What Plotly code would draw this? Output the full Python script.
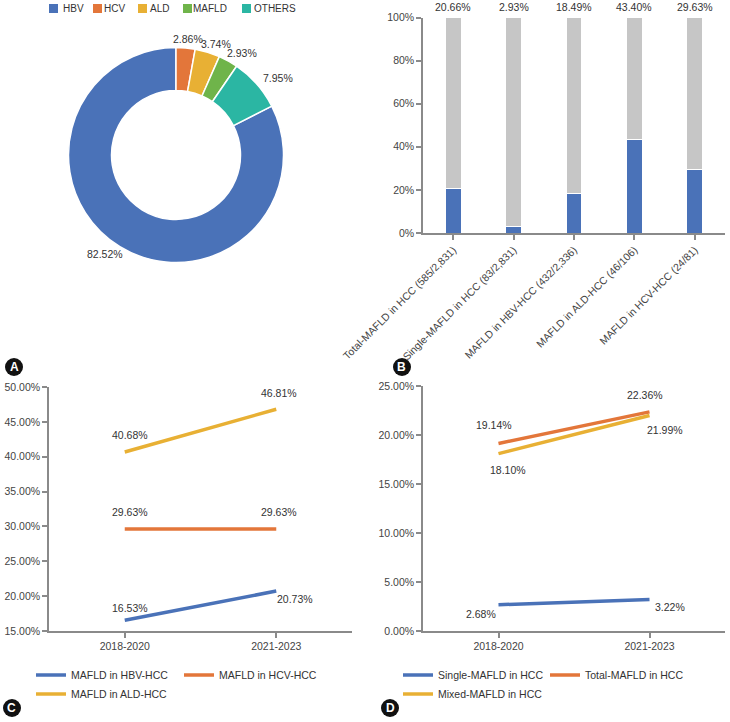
import math
import plotly.graph_objects as go

# ---------- Data ----------
pie_labels = ["HBV", "HCV", "ALD", "MAFLD", "OTHERS"]
pie_values = [82.52, 2.86, 3.74, 2.93, 7.95]

bar_categories = ["Total-MAFLD in HCC (585/2,831)", "Single-MAFLD in HCC (83/2,831)",
                  "MAFLD in HBV-HCC (432/2,336)", "MAFLD in ALD-HCC (46/106)",
                  "MAFLD in HCV-HCC (24/81)"]
bar_mafld = [20.66, 2.93, 18.49, 43.40, 29.63]

periods = ["2018-2020", "2021-2023"]
c_hbv = [16.53, 20.73]
c_hcv = [29.63, 29.63]
c_ald = [40.68, 46.81]
d_single = [2.68, 3.22]
d_total = [19.14, 22.36]
d_mixed = [18.10, 21.99]

BLUE = "#4a72b8"
ORANGE = "#e3763a"
YELLOW = "#e8b034"
GREEN = "#6fb44a"
TEAL = "#2bb6a3"
GRAY = "#c6c6c6"
AX = "#8a8a8a"
TXT = "#333333"
FONT = "Liberation Sans, Arial, sans-serif"
FS = 10.5
pie_colors = [BLUE, ORANGE, YELLOW, GREEN, TEAL]

W, H = 730, 722
fig = go.Figure()

# ---------- A: donut ----------
PCX, PCY, PR = 176, 155, 107.5
rotation = 360 - pie_values[0] / 100 * 360
fig.add_trace(go.Pie(
    labels=pie_labels, values=pie_values, hole=0.6, sort=False,
    direction="clockwise", rotation=rotation,
    marker=dict(colors=pie_colors, line=dict(color="white", width=1.5)),
    textinfo="none",
    domain=dict(x=[(PCX - PR) / W, (PCX + PR) / W], y=[1 - (PCY + PR) / H, 1 - (PCY - PR) / H]),
    showlegend=False,
))

annotations = []
shapes = []

# outside percentage labels, positioned at each slice's mid-angle
total = sum(pie_values)
cum = 0.0
for v in pie_values:
    mid = rotation + (cum + v / 2) / total * 360
    cum += v
    a = math.radians(mid)
    s, c = math.sin(a), math.cos(a)
    R0 = PR + 5
    lx = PCX + R0 * s + 23 * s
    ly = PCY - R0 * c - 4 * c
    annotations.append(dict(x=lx / W, y=1 - ly / H, xref="paper", yref="paper", text=f"{v:.2f}%",
                            showarrow=False, xanchor="center", yanchor="middle",
                            font=dict(size=FS, color=TXT, family=FONT)))

# ---------- B: stacked bars ----------
fig.add_trace(go.Bar(
    x=bar_categories, y=[v / 100 for v in bar_mafld], marker=dict(color=BLUE, line=dict(color="white", width=1)),
    xaxis="x", yaxis="y", showlegend=False, width=0.26,
))
fig.add_trace(go.Bar(
    x=bar_categories, y=[1 - v / 100 for v in bar_mafld], marker=dict(color=GRAY, line=dict(color="white", width=1)),
    xaxis="x", yaxis="y", showlegend=False, width=0.26,
))
for cat, v in zip(bar_categories, bar_mafld):
    annotations.append(dict(x=cat, y=1, xref="x", yref="y", text=f"{v:.2f}%", showarrow=False,
                            yanchor="bottom", yshift=3, font=dict(size=FS, color=TXT, family=FONT)))

# pie legend (manual, compact spacing as in reference)
sq_x = [49, 93, 138, 183, 242]
tx_x = [63, 104, 150, 193, 254]
for sx, tx, lab, col in zip(sq_x, tx_x, pie_labels, pie_colors):
    shapes.append(dict(type="rect", xref="paper", yref="paper", layer="below",
                       x0=sx / W, x1=(sx + 9) / W, y0=1 - 13 / H, y1=1 - 4 / H,
                       fillcolor=col, line=dict(width=0)))
    annotations.append(dict(x=tx / W, y=1 - 8.5 / H, xref="paper", yref="paper", text=lab,
                            showarrow=False, xanchor="left", yanchor="middle", xshift=-2,
                            font=dict(size=10, color=TXT, family=FONT)))

# ---------- C / D: lines ----------
def line(xs, ys, color, name, offsets, xa, ya, leg):
    for xv, yv, (dx, dy) in zip(xs, ys, offsets):
        annotations.append(dict(x=xv, y=yv, xref=xa, yref=ya, text=f"{yv:.2f}%", showarrow=False,
                                xanchor="center", yanchor="middle", xshift=dx, yshift=-dy,
                                font=dict(size=FS, color=TXT, family=FONT)))
    return go.Scatter(x=xs, y=ys, mode="lines", name=name, line=dict(color=color, width=3.5),
                      xaxis=xa, yaxis=ya, legend=leg, cliponaxis=False)

# label offsets in pixels (dx right, dy down) relative to each point
fig.add_trace(line(periods, c_hbv, BLUE, "MAFLD in HBV-HCC", [(5, -12), (19, 8)], "x2", "y2", "legend"))
fig.add_trace(line(periods, c_hcv, ORANGE, "MAFLD in HCV-HCC", [(5, -17), (3, -17)], "x2", "y2", "legend2"))
fig.add_trace(line(periods, c_ald, YELLOW, "MAFLD in ALD-HCC", [(5, -17), (3, -16)], "x2", "y2", "legend3"))

fig.add_trace(line(periods, d_single, BLUE, "Single-MAFLD in HCC", [(-18, 9), (20, 8)], "x3", "y3", "legend4"))
fig.add_trace(line(periods, d_total, ORANGE, "Total-MAFLD in HCC", [(-5, -18), (-5, -17)], "x3", "y3", "legend5"))
fig.add_trace(line(periods, d_mixed, YELLOW, "Mixed-MAFLD in HCC", [(9, 16), (15, 14)], "x3", "y3", "legend6"))

axis_common = dict(showline=True, linecolor=AX, linewidth=1.5, ticks="outside", tickcolor=AX,
                   ticklen=5, tickwidth=1.5, showgrid=False, zeroline=False, automargin=False,
                   tickfont=dict(size=FS, color="#444", family=FONT))

# panel letters
for (cx, cy, letter) in [(14, 367, "A"), (402, 367, "B"), (12, 708, "C"), (390, 708, "D")]:
    r = 9
    shapes.append(dict(type="circle", xref="paper", yref="paper", layer="below",
                       x0=(cx - r) / W, x1=(cx + r) / W, y0=1 - (cy + r) / H, y1=1 - (cy - r) / H,
                       fillcolor="#111", line=dict(width=0)))
    annotations.append(dict(x=cx / W, y=1 - cy / H, xref="paper", yref="paper", text=f"<b>{letter}</b>",
                            showarrow=False, xanchor="center", yanchor="middle",
                            font=dict(size=12, color="white", family=FONT)))

def leg(px, py):
    return dict(x=px / W, y=1 - py / H, orientation="h", xanchor="left", yanchor="middle",
                bgcolor="rgba(0,0,0,0)", font=dict(size=FS, color=TXT, family=FONT))

fig.update_layout(
    width=W, height=H, margin=dict(l=0, r=0, t=0, b=0, autoexpand=False),
    paper_bgcolor="white", plot_bgcolor="white",
    font=dict(family=FONT, color=TXT),
    barmode="stack",
    xaxis=dict(domain=[423 / W, 725 / W], anchor="y", tickangle=-45, **axis_common),
    yaxis=dict(domain=[1 - 233 / H, 1 - 17.5 / H], anchor="x", range=[0, 1], tickvals=[0, 0.2, 0.4, 0.6, 0.8, 1],
               tickformat=".0%", **axis_common),
    xaxis2=dict(domain=[49 / W, 352 / W], anchor="y2", range=[-0.5, 1.5], **axis_common),
    yaxis2=dict(domain=[1 - 631 / H, 1 - 387 / H], anchor="x2", range=[15, 50], dtick=5,
                tickformat=".2f", ticksuffix="%", **axis_common),
    xaxis3=dict(domain=[423 / W, 725 / W], anchor="y3", range=[-0.5, 1.5], **axis_common),
    yaxis3=dict(domain=[1 - 631 / H, 1 - 386 / H], anchor="x3", range=[0, 25], dtick=5,
                tickformat=".2f", ticksuffix="%", **axis_common),
    legend=leg(31, 675), legend2=leg(179, 675), legend3=leg(31, 694),
    legend4=leg(398, 675), legend5=leg(545, 675), legend6=leg(398, 694),
    annotations=annotations, shapes=shapes,
)

fig.write_html("out.html", config={"displayModeBar": False},
               post_script="document.body.style.margin='0';")
